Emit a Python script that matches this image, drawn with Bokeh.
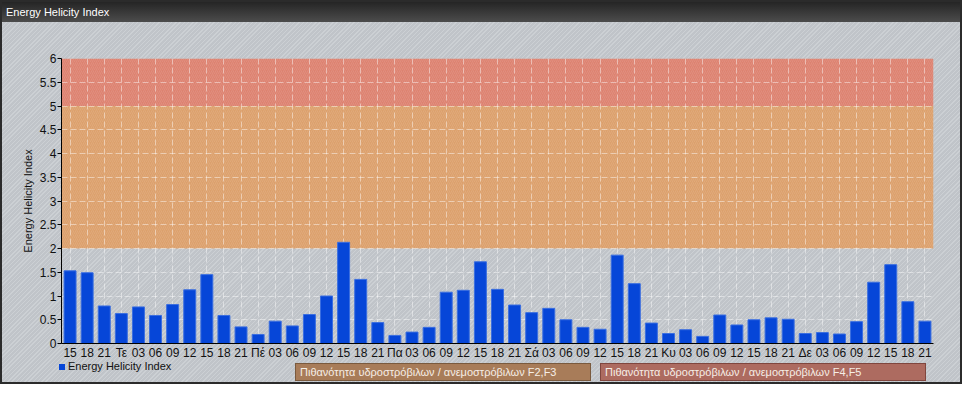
from bokeh.plotting import figure
from bokeh.layouts import column
from bokeh.models import (BoxAnnotation, FixedTicker, NumeralTickFormatter, Range1d, Div)
from bokeh.embed import file_html
from bokeh.resources import INLINE

# ---------------- data ----------------
tick_labels = ["15", "18", "21",
               "Τε", "03", "06", "09", "12", "15", "18", "21",
               "Πέ", "03", "06", "09", "12", "15", "18", "21",
               "Πα", "03", "06", "09", "12", "15", "18", "21",
               "Σά", "03", "06", "09", "12", "15", "18", "21",
               "Κυ", "03", "06", "09", "12", "15", "18", "21",
               "Δε", "03", "06", "09", "12", "15", "18", "21"]
values = [1.53, 1.49, 0.79,
          0.63, 0.77, 0.59, 0.82, 1.13, 1.45, 0.59, 0.35,
          0.19, 0.47, 0.37, 0.61, 1.00, 2.13, 1.35, 0.44,
          0.17, 0.24, 0.34, 1.08, 1.12, 1.72, 1.14, 0.81,
          0.65, 0.74, 0.50, 0.34, 0.30, 1.86, 1.26, 0.43,
          0.21, 0.29, 0.15, 0.60, 0.39, 0.50, 0.54, 0.51,
          0.21, 0.23, 0.20, 0.46, 1.29, 1.66, 0.88, 0.47]
y_ticks = [0, 0.5, 1, 1.5, 2, 2.5, 3, 3.5, 4, 4.5, 5, 5.5, 6]
band_bottoms = [2, 5]
band_tops = [5, 6]
band_colors = ["#dca06c", "#dd8270"]
series_name = "Energy Helicity Index"
band_texts = ["Πιθανότητα υδροστρόβιλων / ανεμοστρόβιλων F2,F3",
              "Πιθανότητα υδροστρόβιλων / ανεμοστρόβιλων F4,F5"]

x = list(range(len(values)))

W = 958
FONT = "'Liberation Sans', Arial, sans-serif"
BAR_FILL = "#0646d8"
BAR_LINE = "#3a6ee0"
TXT = "#111111"
HATCH = ("repeating-linear-gradient(135deg, #c0c4c9 0px, #c0c4c9 2px, "
         "#ccd0d4 2px, #ccd0d4 3px)")

# ---------------- title bar ----------------
TH = 20
title = Div(width=W, height=TH, margin=0,
            text=(f'<div style="width:{W}px;height:{TH}px;line-height:{TH}px;'
                  f'background:linear-gradient(#252525,#4c4c4c);color:white;'
                  f'font-family:{FONT};font-size:11px;padding-left:4px;'
                  f'box-sizing:border-box;white-space:nowrap">{series_name}</div>'))

# ---------------- main chart ----------------
FL, FW, FT, FH, FB = 59, 872, 36, 288, 16
p = figure(width=W, height=FT + FH + FB,
           min_border_left=FL, min_border_right=W - FL - FW,
           min_border_top=FT, min_border_bottom=FB,
           x_range=Range1d(-0.5, len(values) - 0.5), y_range=Range1d(0, 6),
           output_backend="svg", toolbar_location=None, tools="")
p.background_fill_alpha = 0
p.border_fill_alpha = 0
p.outline_line_color = None

bands = []
for b, tp, c in zip(band_bottoms, band_tops, band_colors):
    bands.append(BoxAnnotation(bottom=b, top=tp, fill_color=c, fill_alpha=1.0,
                               line_color=None,
                               hatch_pattern="/", hatch_color="white",
                               hatch_alpha=0.1, hatch_scale=4, hatch_weight=1,
                               level="underlay"))
p.center = bands + list(p.center)

p.xgrid.ticker = FixedTicker(ticks=x)
p.ygrid.ticker = FixedTicker(ticks=y_ticks)
for g in (p.xgrid, p.ygrid):
    g.grid_line_color = "white"
    g.grid_line_alpha = 0.45
    g.grid_line_dash = "6 3"
    g.grid_line_width = 1

bars = p.vbar(x=x, top=values, width=0.7, fill_color=BAR_FILL,
              line_color=BAR_LINE, line_width=1)

p.xaxis.ticker = FixedTicker(ticks=x)
p.xaxis.major_label_overrides = {i: lab for i, lab in enumerate(tick_labels)}
p.xaxis.major_tick_out = 0
p.xaxis.major_tick_in = 0
p.xaxis.minor_tick_out = 0
p.xaxis.minor_tick_in = 0
p.xaxis.major_label_standoff = 2
p.xaxis.axis_line_color = "black"
p.xaxis.axis_line_width = 1

p.yaxis.ticker = FixedTicker(ticks=y_ticks)
p.yaxis.formatter = NumeralTickFormatter(format="0.[0]")
p.yaxis.major_tick_out = 4
p.yaxis.major_tick_in = 0
p.yaxis.minor_tick_out = 0
p.yaxis.minor_tick_in = 0
p.yaxis.major_label_standoff = 1
p.yaxis.axis_line_color = "black"
p.yaxis.major_tick_line_color = "black"
p.yaxis.axis_label = series_name
p.yaxis.axis_label_standoff = 3
p.yaxis.axis_label_text_font_style = "normal"
p.yaxis.axis_label_text_font_size = "11px"
p.yaxis.axis_label_text_font = "Liberation Sans"
p.yaxis.axis_label_text_color = TXT

for ax in (p.xaxis, p.yaxis):
    ax.major_label_text_font = "Liberation Sans"
    ax.major_label_text_font_size = "12px"
    ax.major_label_text_color = TXT

# ---------------- legend row ----------------
BH = 20
box_fills = ["#a87c59", "#ad6b60"]
box_lines = ["#7a5a3e", "#80463e"]
box_lefts = [293, 598]
box_widths = [296, 326]
parts = [f'<div style="position:relative;width:{W}px;height:{BH}px;'
         f'font-family:{FONT};font-size:11px;white-space:nowrap">',
         f'<div style="position:absolute;left:57px;top:2px;width:6px;height:6px;'
         f'background:{BAR_FILL};border:0"></div>',
         f'<div style="position:absolute;left:66px;top:-2px;line-height:13px;'
         f'color:{TXT}">{series_name}</div>']
for txt, f, lc, l, w in zip(band_texts, box_fills, box_lines, box_lefts, box_widths):
    parts.append(f'<div style="position:absolute;left:{l}px;top:1px;width:{w}px;'
                 f'height:18px;box-sizing:border-box;background:{f};'
                 f'border:1px solid {lc};color:#f6eee6;line-height:16px;'
                 f'padding-left:4px">{txt}</div>')
parts.append('</div>')
legend_row = Div(width=W, height=BH, margin=0, text="".join(parts))

layout = column(title, p, legend_row, spacing=0,
                styles={"border": "2px solid #2b2b2b", "background": HATCH})

open("out.html", "w").write(file_html(layout, INLINE))
